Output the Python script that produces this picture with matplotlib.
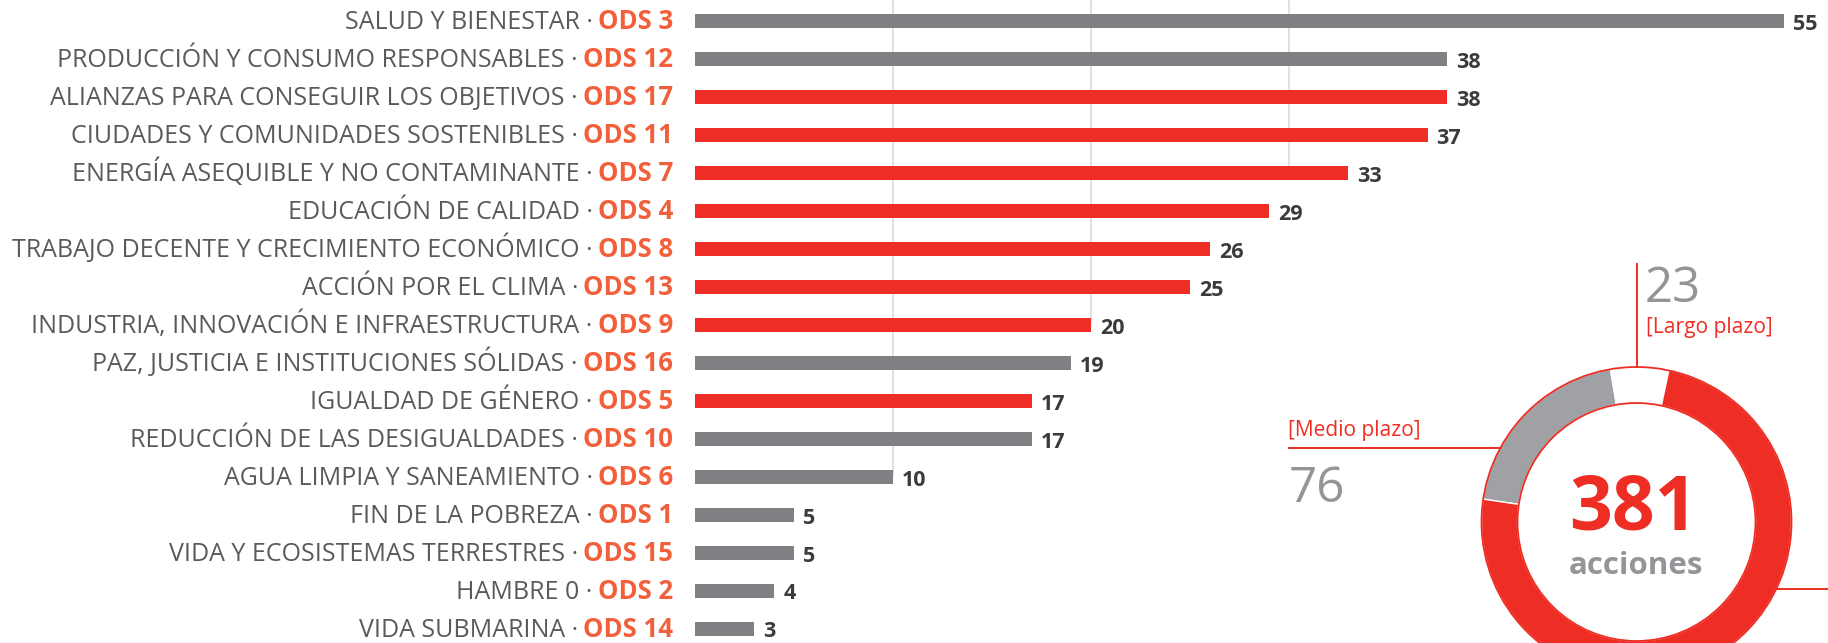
import numpy as np
import matplotlib
matplotlib.use("Agg")
import matplotlib.pyplot as plt
from matplotlib.patches import Circle

plt.rcParams['font.family'] = ['Open Sans', 'DejaVu Sans']

# datos
nombres = ["SALUD Y BIENESTAR", "PRODUCCIÓN Y CONSUMO RESPONSABLES",
           "ALIANZAS PARA CONSEGUIR LOS OBJETIVOS", "CIUDADES Y COMUNIDADES SOSTENIBLES",
           "ENERGÍA ASEQUIBLE Y NO CONTAMINANTE", "EDUCACIÓN DE CALIDAD",
           "TRABAJO DECENTE Y CRECIMIENTO ECONÓMICO", "ACCIÓN POR EL CLIMA",
           "INDUSTRIA, INNOVACIÓN E INFRAESTRUCTURA", "PAZ, JUSTICIA E INSTITUCIONES SÓLIDAS",
           "IGUALDAD DE GÉNERO", "REDUCCIÓN DE LAS DESIGUALDADES",
           "AGUA LIMPIA Y SANEAMIENTO", "FIN DE LA POBREZA",
           "VIDA Y ECOSISTEMAS TERRESTRES", "HAMBRE 0", "VIDA SUBMARINA"]
ods = [3, 12, 17, 11, 7, 4, 8, 13, 9, 16, 5, 10, 6, 1, 15, 2, 14]
valores = [55, 38, 38, 37, 33, 29, 26, 25, 20, 19, 17, 17, 10, 5, 5, 4, 3]
destacado = [0, 0, 1, 1, 1, 1, 1, 1, 1, 0, 1, 0, 0, 0, 0, 0, 0]
grid_x = [10, 20, 30]

# donut: medio, largo, corto
plazos = ["[Medio plazo]", "[Largo plazo]", "[Corto plazo]"]
acciones_plazo = [76, 23, 282]
total = sum(acciones_plazo)

ROJO = '#EE2E24'
GRIS = '#808184'
GRIS_D = '#A0A1A4'
NARANJA = '#F15F3B'
TXT = '#5A5A5A'
NUM = '#3B3B3B'
GRIS_T = '#939598'

W, H = 1828, 643
fig = plt.figure(figsize=(W / 100, H / 100), dpi=100)

# barras (escala en pixeles)
x0 = 695
pxu = 19.8
y0 = 21
paso = 37.98
ax = fig.add_axes([x0 / W, 0, 1 - x0 / W, 1])
ax.set_xlim(0, (W - x0) / pxu)
ax.set_ylim((H - y0) / paso, -y0 / paso)
ax.axis('off')

filas = np.arange(len(valores))
for g in grid_x:
    ultimo = max(i for i, v in enumerate(valores) if v >= g)
    ax.vlines(g, -y0 / paso, ultimo, color='#DCDCDC', lw=1.2, zorder=0)

colores = [ROJO if d else GRIS for d in destacado]
ax.barh(filas, valores, height=14 / paso, color=colores, zorder=2)

lx = -22 / pxu
for i in filas:
    t = ax.text(lx, i + 8 / paso, "ODS %d" % ods[i], ha='right', va='baseline',
                fontsize=18.5, fontweight='bold', color=NARANJA, clip_on=False)
    ax.annotate(nombres[i] + " ·", xy=(0, 0), xycoords=t, xytext=(-5, 0),
                textcoords='offset pixels', ha='right', va='bottom',
                fontsize=18, color=TXT, annotation_clip=False)
    ax.annotate(str(valores[i]), xy=(valores[i], i + 8.8 / paso), xytext=(9, 0),
                textcoords='offset pixels', ha='left', va='baseline',
                fontsize=15.5, fontweight='bold', color=NUM, annotation_clip=False)

# donut
ax2 = fig.add_axes([0, 0, 1, 1])
ax2.patch.set_alpha(0)
cx, cy = 1636.5, H - 522
R, r = 155, 119
ax2.pie(acciones_plazo, colors=[GRIS_D, 'white', ROJO], startangle=171.5,
        counterclock=False, radius=R, center=(cx, cy), frame=True,
        wedgeprops=dict(width=R - r, edgecolor='white', linewidth=1))
ax2.add_patch(Circle((cx, cy), R, fill=False, ec=ROJO, lw=1.3))
ax2.add_patch(Circle((cx, cy), r, fill=False, ec=ROJO, lw=1.3))
ax2.set_xlim(0, W)
ax2.set_ylim(0, H)
ax2.set_aspect('auto')
ax2.axis('off')

# lineas guia
ax2.plot([cx, cx], [H - 264, cy + R], color=ROJO, lw=1.4)
yh = H - 448
ax2.plot([1289, cx - np.sqrt(R**2 - (yh - cy)**2)], [yh, yh], color=ROJO, lw=1.4)
yb = H - 589
ax2.plot([cx + np.sqrt(R**2 - (yb - cy)**2), W], [yb, yb], color=ROJO, lw=1.4)

ax2.text(1645, H - 302, str(acciones_plazo[1]), fontsize=35.5, color=GRIS_T, va='baseline')
ax2.text(1646, H - 333, plazos[1], fontsize=15.1, color=ROJO, va='baseline')
ax2.text(1288, H - 436, plazos[0], fontsize=15.1, color=ROJO, va='baseline')
ax2.text(1289, H - 502, str(acciones_plazo[0]), fontsize=35.5, color=GRIS_T, va='baseline')

ax2.text(cx - 3, H - 529, str(total), fontsize=54, fontweight='bold', color=ROJO,
         ha='center', va='baseline')
ax2.text(cx, H - 574, "acciones", fontsize=22.5, fontweight='bold', color=GRIS_T,
         ha='center', va='baseline')

fig.savefig('out.png', dpi=100)
